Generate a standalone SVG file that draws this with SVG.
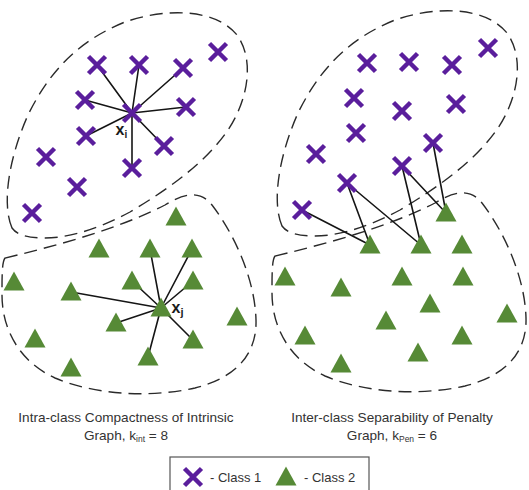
<svg xmlns="http://www.w3.org/2000/svg" xmlns:xlink="http://www.w3.org/1999/xlink" width="529" height="490" viewBox="0 0 529 490">
<style>
.bg{fill:#ffffff}
.blob{fill:none;stroke:#2a2a2a;stroke-width:1.4;stroke-dasharray:13 7}
.edge{stroke:#151515;stroke-width:1.6;stroke-linecap:round}
.cross{fill:none;stroke:#5a1e9c;stroke-width:4.5;stroke-linecap:butt}
.tri{fill:#568a36}
.cap{font-family:"Liberation Sans",Arial,sans-serif;font-size:13.6px;fill:#333333;text-anchor:middle}
.lbl{font-family:"Liberation Sans",Arial,sans-serif;font-weight:bold;font-size:16px;fill:#1a1a1a}
.leg{font-family:"Liberation Sans",Arial,sans-serif;font-size:13px;fill:#333333}
</style>
<defs>
<path id="x" class="cross" d="M-8.5,-8.5 L8.5,8.5 M8.5,-8.5 L-8.5,8.5"/>
<polygon id="t" class="tri" points="0,-10.5 10.5,8.5 -10.5,8.5"/>
<path id="blobTop" d="M12,228 C2,205 8,160 28,115 C50,70 80,40 125,22 C165,8 215,8 237,35 C255,60 248,100 228,130 C205,163 170,188 130,212 C100,228 70,238 45,238 C28,238 17,235 12,228 Z"/>
<path id="blobBot" d="M5,258 C60,245 120,228 165,205 C185,193 200,190 212,205 C235,235 255,280 256,320 C257,355 235,378 195,388 C150,398 95,395 55,378 C20,362 2,330 2,295 C2,275 2,262 5,258 Z"/>
</defs>
<rect class="bg" x="0" y="0" width="529" height="490"/>

<g id="outlines">
<use href="#blobTop" xlink:href="#blobTop" class="blob"/>
<use href="#blobBot" xlink:href="#blobBot" class="blob"/>
<use href="#blobTop" xlink:href="#blobTop" class="blob" transform="translate(270,-2)"/>
<use href="#blobBot" xlink:href="#blobBot" class="blob" transform="translate(270,-2)"/>
</g>

<g id="connectors">
<line class="edge" x1="132" y1="113" x2="97" y2="65"/>
<line class="edge" x1="132" y1="113" x2="139" y2="65"/>
<line class="edge" x1="132" y1="113" x2="183" y2="68"/>
<line class="edge" x1="132" y1="113" x2="85" y2="100"/>
<line class="edge" x1="132" y1="113" x2="186" y2="107"/>
<line class="edge" x1="132" y1="113" x2="86" y2="136"/>
<line class="edge" x1="132" y1="113" x2="164" y2="146"/>
<line class="edge" x1="132" y1="113" x2="132" y2="168"/>
<line class="edge" x1="161" y1="308" x2="150" y2="249"/>
<line class="edge" x1="161" y1="308" x2="192" y2="249"/>
<line class="edge" x1="161" y1="308" x2="71" y2="292"/>
<line class="edge" x1="161" y1="308" x2="132" y2="281"/>
<line class="edge" x1="161" y1="308" x2="193" y2="281"/>
<line class="edge" x1="161" y1="308" x2="116" y2="323"/>
<line class="edge" x1="161" y1="308" x2="193" y2="340"/>
<line class="edge" x1="161" y1="308" x2="148" y2="357"/>
<line class="edge" x1="302" y1="210" x2="370" y2="245"/>
<line class="edge" x1="347" y1="183" x2="370" y2="245"/>
<line class="edge" x1="347" y1="183" x2="421" y2="245"/>
<line class="edge" x1="402" y1="166" x2="421" y2="245"/>
<line class="edge" x1="402" y1="166" x2="446" y2="213"/>
<line class="edge" x1="433" y1="143" x2="446" y2="213"/>
</g>

<g id="L-c1"><use href="#x" xlink:href="#x" x="218" y="52"/></g>
<g id="L-c2"><use href="#x" xlink:href="#x" x="97" y="65"/></g>
<g id="L-c3"><use href="#x" xlink:href="#x" x="139" y="65"/></g>
<g id="L-c4"><use href="#x" xlink:href="#x" x="183" y="68"/></g>
<g id="L-c5"><use href="#x" xlink:href="#x" x="85" y="100"/></g>
<g id="L-xi"><use href="#x" xlink:href="#x" x="132" y="113"/><text class="lbl" x="115.5" y="135">x<tspan font-size="10" dy="3">i</tspan></text></g>
<g id="L-c7"><use href="#x" xlink:href="#x" x="186" y="107"/></g>
<g id="L-c8"><use href="#x" xlink:href="#x" x="86" y="136"/></g>
<g id="L-c9"><use href="#x" xlink:href="#x" x="164" y="146"/></g>
<g id="L-c10"><use href="#x" xlink:href="#x" x="46" y="157"/></g>
<g id="L-c11"><use href="#x" xlink:href="#x" x="132" y="168"/></g>
<g id="L-c12"><use href="#x" xlink:href="#x" x="77" y="187"/></g>
<g id="L-c13"><use href="#x" xlink:href="#x" x="32" y="213"/></g>

<g id="L-t1"><use href="#t" xlink:href="#t" x="176" y="217"/></g>
<g id="L-t2"><use href="#t" xlink:href="#t" x="99" y="249"/></g>
<g id="L-t3"><use href="#t" xlink:href="#t" x="150" y="249"/></g>
<g id="L-t4"><use href="#t" xlink:href="#t" x="192" y="249"/></g>
<g id="L-t5"><use href="#t" xlink:href="#t" x="14" y="282"/></g>
<g id="L-t6"><use href="#t" xlink:href="#t" x="71" y="292"/></g>
<g id="L-t7"><use href="#t" xlink:href="#t" x="132" y="281"/></g>
<g id="L-t8"><use href="#t" xlink:href="#t" x="193" y="281"/></g>
<g id="L-xj"><use href="#t" xlink:href="#t" x="161" y="308"/><text class="lbl" x="171.5" y="313">x<tspan font-size="11" dy="3">j</tspan></text></g>
<g id="L-t10"><use href="#t" xlink:href="#t" x="116" y="323"/></g>
<g id="L-t11"><use href="#t" xlink:href="#t" x="237" y="317"/></g>
<g id="L-t12"><use href="#t" xlink:href="#t" x="35" y="339"/></g>
<g id="L-t13"><use href="#t" xlink:href="#t" x="193" y="340"/></g>
<g id="L-t14"><use href="#t" xlink:href="#t" x="148" y="357"/></g>
<g id="L-t15"><use href="#t" xlink:href="#t" x="71" y="368"/></g>

<g id="R-c1"><use href="#x" xlink:href="#x" x="488" y="48"/></g>
<g id="R-c2"><use href="#x" xlink:href="#x" x="367" y="63"/></g>
<g id="R-c3"><use href="#x" xlink:href="#x" x="409" y="62"/></g>
<g id="R-c4"><use href="#x" xlink:href="#x" x="452" y="65"/></g>
<g id="R-c5"><use href="#x" xlink:href="#x" x="354" y="98"/></g>
<g id="R-c6"><use href="#x" xlink:href="#x" x="402" y="111"/></g>
<g id="R-c7"><use href="#x" xlink:href="#x" x="456" y="104"/></g>
<g id="R-c8"><use href="#x" xlink:href="#x" x="356" y="133"/></g>
<g id="R-c9"><use href="#x" xlink:href="#x" x="433" y="143"/></g>
<g id="R-c10"><use href="#x" xlink:href="#x" x="316" y="154"/></g>
<g id="R-c11"><use href="#x" xlink:href="#x" x="402" y="166"/></g>
<g id="R-c12"><use href="#x" xlink:href="#x" x="347" y="183"/></g>
<g id="R-c13"><use href="#x" xlink:href="#x" x="302" y="210"/></g>

<g id="R-t1"><use href="#t" xlink:href="#t" x="446" y="213"/></g>
<g id="R-t2"><use href="#t" xlink:href="#t" x="370" y="245"/></g>
<g id="R-t3"><use href="#t" xlink:href="#t" x="421" y="245"/></g>
<g id="R-t4"><use href="#t" xlink:href="#t" x="462" y="245"/></g>
<g id="R-t5"><use href="#t" xlink:href="#t" x="285" y="277"/></g>
<g id="R-t6"><use href="#t" xlink:href="#t" x="341" y="288"/></g>
<g id="R-t7"><use href="#t" xlink:href="#t" x="402" y="277"/></g>
<g id="R-t8"><use href="#t" xlink:href="#t" x="463" y="277"/></g>
<g id="R-t9"><use href="#t" xlink:href="#t" x="430" y="304"/></g>
<g id="R-t10"><use href="#t" xlink:href="#t" x="386" y="321"/></g>
<g id="R-t11"><use href="#t" xlink:href="#t" x="507" y="314"/></g>
<g id="R-t12"><use href="#t" xlink:href="#t" x="305" y="336"/></g>
<g id="R-t13"><use href="#t" xlink:href="#t" x="462" y="336"/></g>
<g id="R-t14"><use href="#t" xlink:href="#t" x="418" y="353"/></g>
<g id="R-t15"><use href="#t" xlink:href="#t" x="341" y="364"/></g>

<g id="caption-left">
<text class="cap" x="126" y="422">Intra-class Compactness of Intrinsic</text>
<text class="cap" x="126" y="440">Graph, k<tspan font-size="8.5" dy="2">int</tspan><tspan dy="-2"> = 8</tspan></text>
</g>
<g id="caption-right">
<text class="cap" x="392" y="422">Inter-class Separability of Penalty</text>
<text class="cap" x="392" y="440">Graph, k<tspan font-size="8.5" dy="2">Pen</tspan><tspan dy="-2"> = 6</tspan></text>
</g>

<g id="legend">
<rect x="170" y="457" width="199" height="40" fill="#ffffff" stroke="#555555" stroke-width="1.2"/>
<use href="#x" xlink:href="#x" x="193" y="477"/>
<text class="leg" x="210" y="482">- Class 1</text>
<use href="#t" xlink:href="#t" x="286" y="477"/>
<text class="leg" x="304" y="482">- Class 2</text>
</g>
</svg>
